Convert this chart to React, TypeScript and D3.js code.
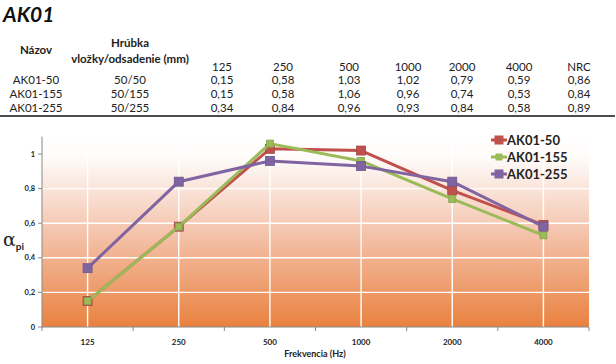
import React from 'react';
import * as d3 from 'd3';

const freqs = ['125', '250', '500', '1000', '2000', '4000'];
const names = ['AK01-50', 'AK01-155', 'AK01-255'];
const thickness = ['50/50', '50/155', '50/255'];
const ak50 = [0.15, 0.58, 1.03, 1.02, 0.79, 0.59];
const ak155 = [0.15, 0.58, 1.06, 0.96, 0.74, 0.53];
const ak255 = [0.34, 0.84, 0.96, 0.93, 0.84, 0.58];
const nrc = [0.86, 0.84, 0.89];
const yTicks = [0, 0.2, 0.4, 0.6, 0.8, 1];

const colors = ['#c0504d', '#9bbb59', '#8064a2'];
const markerSize = [9, 7, 9];
const fnt = 'Lato, "Open Sans", sans-serif';

const fmt = (v: number) => v.toFixed(2).replace('.', ',');

export default function App() {
  const W = 616, H = 364;
  const series = [ak50, ak155, ak255];

  const x = d3.scaleBand().domain(freqs).range([42, 589]);
  const y = d3.scaleLinear().domain([0, 1.1]).range([327, 136.7]);
  const cx = (f: string) => (x(f) as number) + x.bandwidth() / 2;

  const line = d3.line<number>()
    .x((d, i) => cx(freqs[i]))
    .y((d) => y(d));

  // table column centers
  const colX = [222, 283, 349, 408, 462, 519, 579];
  const rowY = [84, 98, 112];

  return <div style={{position: 'absolute', left: 0, top: 0}}>
    <svg width={W} height={H} style={{display: 'block', background: '#fff'}} fontFamily={fnt}>
      <defs>
        <linearGradient id="bg" x1="0" y1="0" x2="0" y2="1">
          <stop offset="0" stopColor="#ffffff" />
          <stop offset="0.12" stopColor="#fefaf8" />
          <stop offset="0.5" stopColor="#f4c4ad" />
          <stop offset="1" stopColor="#e9813f" />
        </linearGradient>
      </defs>

      {/* table */}
      <text x={3} y={22} fontSize={21} fontWeight="bold" fontStyle="italic" fill="#111">AK01</text>
      <g fontSize={11.5} fill="#222" textAnchor="middle">
        <text x={36} y={54} fontWeight="bold">Názov</text>
        <text x={130} y={47} fontWeight="bold">Hrúbka</text>
        <text x={130} y={63} fontWeight="bold">vložky/odsadenie (mm)</text>
        {freqs.concat(['NRC']).map((f, i) =>
          <text key={f} x={colX[i]} y={71}>{f}</text>)}
        {names.map((n, r) => <g key={n}>
          <text x={36} y={rowY[r]}>{n}</text>
          <text x={130} y={rowY[r]}>{thickness[r]}</text>
          {series[r].map((v, i) => <text key={i} x={colX[i]} y={rowY[r]}>{fmt(v)}</text>)}
          <text x={colX[6]} y={rowY[r]}>{fmt(nrc[r])}</text>
        </g>)}
      </g>
      <line x1={0} x2={615} y1={116} y2={116} stroke="#111" strokeWidth={1.5} />

      {/* plot area */}
      <rect x={42} y={y(1.1)} width={547} height={y(0) - y(1.1)} fill="url(#bg)" />
      {yTicks.slice(1).map(t =>
        <line key={t} x1={42} x2={589} y1={y(t)} y2={y(t)} stroke="#fff" strokeWidth={1.4} />)}
      {freqs.map(f =>
        <line key={f} x1={cx(f)} x2={cx(f)} y1={y(1.1)} y2={y(0)} stroke="#fff" strokeWidth={1.4} />)}

      {/* axes */}
      <line x1={42} x2={42} y1={y(1.1)} y2={y(0)} stroke="#888" />
      <line x1={42} x2={589} y1={y(0)} y2={y(0)} stroke="#888" />
      {yTicks.map(t => <g key={t}>
        <line x1={38} x2={42} y1={y(t)} y2={y(t)} stroke="#888" />
        <text x={35} y={y(t) + 2.5} fontSize={7.5} fontWeight="bold" textAnchor="end" fill="#222">
          {t === 0 || t === 1 ? String(t) : fmt(t).replace(/0$/, '')}
        </text>
      </g>)}
      {freqs.map((f, i) => <g key={f}>
        <line x1={(x(f) as number) + x.bandwidth()} x2={(x(f) as number) + x.bandwidth()}
          y1={y(0)} y2={y(0) + 4} stroke="#888" />
        <text x={cx(f)} y={345} fontSize={8} fontWeight="bold" textAnchor="middle" fill="#222">{f}</text>
      </g>)}
      <line x1={42} x2={42} y1={y(0)} y2={y(0) + 4} stroke="#888" />
      <text x={315} y={357} fontSize={9} fontWeight="bold" textAnchor="middle" fill="#222">Frekvencia (Hz)</text>
      <text x={3} y={246} fontSize={19} fill="#222" fontFamily='"DejaVu Serif", serif'>
        α<tspan fontSize={10} fontWeight="bold" dy={4} fontFamily={fnt}>pi</tspan>
      </text>

      {/* series */}
      {series.map((s, k) => <g key={k}>
        <path d={line(s) as string} fill="none" stroke={colors[k]} strokeWidth={3} strokeLinejoin="round" />
        {s.map((v, i) => <rect key={i}
          x={cx(freqs[i]) - markerSize[k] / 2} y={y(v) - markerSize[k] / 2}
          width={markerSize[k]} height={markerSize[k]} fill={colors[k]}
          stroke={d3.color(colors[k])!.darker(0.4).toString()} strokeWidth={0.8} />)}
      </g>)}

      {/* legend */}
      {names.map((n, k) => {
        const ly = 140 + k * 17;
        return <g key={n}>
          <line x1={491} x2={507} y1={ly} y2={ly} stroke={colors[k]} strokeWidth={3} />
          <rect x={499 - markerSize[k] / 2} y={ly - markerSize[k] / 2}
            width={markerSize[k]} height={markerSize[k]} fill={colors[k]} />
          <text x={507} y={ly + 4.5} fontSize={13} fontWeight="bold" fill="#222">{n}</text>
        </g>;
      })}
    </svg>
  </div>;
}
